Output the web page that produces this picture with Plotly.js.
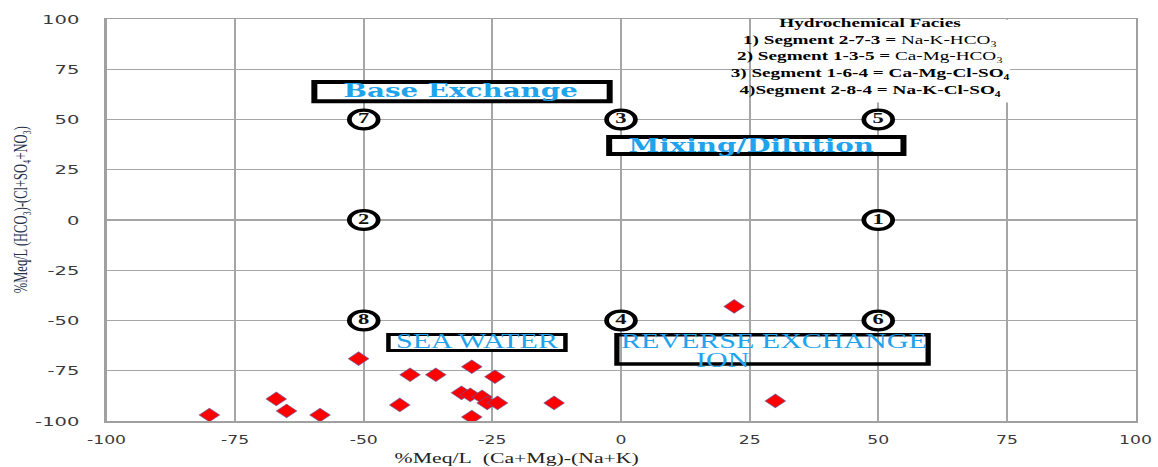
<!DOCTYPE html>
<html>
<head>
<meta charset="utf-8">
<script src="https://cdn.plot.ly/plotly-3.0.1.min.js"></script>
<style>
html,body{margin:0;padding:0;background:#fff;overflow:hidden;}
#chart{width:772px;height:467px;transform:scaleX(1.5);transform-origin:0 0;}
</style>
</head>
<body>
<div id="chart"></div>
<script>
// Sample points (Chadha diagram)
const sampleX = [-80, -67, -65, -58.5, -51, -43, -41, -36, -29, -24.5, -31, -29.3, -27, -26, -24, -29, -13, 22, 30];
const sampleY = [-97, -89, -95, -97, -69, -92, -77, -77, -73, -78, -86, -87, -88, -91, -91, -98, -91, -43, -90];

// Numbered field points
const fieldLabels = ['7', '3', '5', '2', '1', '8', '4', '6'];
const fieldX = [-50, 0, 50, -50, 50, -50, 0, 50];
const fieldY = [50, 50, 50, 0, 0, -50, -50, -50];

// Axis ticks
const tickVals = [-100, -75, -50, -25, 0, 25, 50, 75, 100];
const tickText = ['-100', '-75', '-50', '-25', '0', '25', '50', '75', '100'];

// Texts
const legendLines = [
  '<b>Hydrochemical Facies</b>',
  '<b>1) Segment 2-7-3 = </b>Na-K-HCO\u2083',
  '<b>2) Segment 1-3-5 = </b>Ca-Mg-HCO\u2083',
  '<b>3) Segment 1-6-4 = Ca-Mg-Cl-SO\u2084</b>',
  '<b>4)Segment 2-8-4 = Na-K-Cl-SO\u2084</b>'
];
const xTitle = '%Meq/L&nbsp;&nbsp;(Ca+Mg)-(Na+K)';
const yTitle = '%Meq/L (HCO\u2083)-(Cl+SO\u2084+NO\u2083)';

const blue = '#1ea3ec';

const traces = [
  {
    x: sampleX, y: sampleY, type: 'scatter', mode: 'markers',
    marker: {symbol: 'diamond', size: 10.5, color: '#ff0000', line: {color: 'rgba(90,90,160,0.7)', width: 0.7}},
    hoverinfo: 'x+y'
  },
  {
    x: fieldX, y: fieldY, type: 'scatter', mode: 'text', text: fieldLabels,
    textposition: 'middle center',
    textfont: {family: 'Liberation Serif', size: 15, color: '#111', weight: 'bold'},
    hoverinfo: 'skip'
  }
];

const shapes = [];
// legend white background
shapes.push({type: 'rect', xref: 'x', yref: 'y', x0: 25.6, x1: 75.6, y0: 58.5, y1: 99.6,
  fillcolor: '#fff', line: {width: 0}, layer: 'between'});
// ellipses around numbered points
fieldX.forEach((fx, i) => {
  shapes.push({type: 'circle', xref: 'x', yref: 'y', xsizemode: 'pixel', ysizemode: 'pixel',
    xanchor: fx, yanchor: fieldY[i], x0: -9.6, x1: 9.6, y0: -9.3, y1: 9.3,
    fillcolor: '#fff', line: {color: '#000', width: 3.2}, layer: 'between'});
});
// text boxes
shapes.push({type: 'rect', xref: 'x', yref: 'y', x0: -59.6, x1: -2.2, y0: 59.1, y1: 68.7,
  fillcolor: '#fff', line: {color: '#000', width: 4}, layer: 'between'});
shapes.push({type: 'rect', xref: 'x', yref: 'y', x0: -2.3, x1: 54.9, y0: 32.8, y1: 41.3,
  fillcolor: '#fff', line: {color: '#000', width: 4}, layer: 'between'});
shapes.push({type: 'rect', xref: 'x', yref: 'y', x0: -45.2, x1: -10.8, y0: -64.9, y1: -57.0,
  fillcolor: '#fff', line: {color: '#000', width: 3}, layer: 'between'});
shapes.push({type: 'rect', xref: 'x', yref: 'y', x0: -0.8, x1: 59.7, y0: -71.6, y1: -57.1,
  fillcolor: 'rgba(0,0,0,0)', line: {color: '#000', width: 3.5}, layer: 'between'});

const annotations = [
  {text: 'Base Exchange', xref: 'x', yref: 'y', x: -31.2, y: 64.2, showarrow: false,
    font: {family: 'DejaVu Serif', size: 18.5, color: blue, weight: 'bold'}},
  {text: 'Mixing/Dilution', xref: 'x', yref: 'y', x: 25.3, y: 37.2, showarrow: false,
    font: {family: 'DejaVu Serif', size: 18.5, color: blue, weight: 'bold'}},
  {text: 'SEA WATER', xref: 'x', yref: 'y', x: -27.8, y: -60.3, showarrow: false,
    font: {family: 'Liberation Serif', size: 20, color: blue}},
  {text: 'REVERSE EXCHANGE', xref: 'x', yref: 'y', x: 29.6, y: -60.3, showarrow: false,
    font: {family: 'Liberation Serif', size: 20, color: blue}},
  {text: 'ION', xref: 'x', yref: 'y', x: 19.9, y: -69.6, showarrow: false,
    font: {family: 'Liberation Serif', size: 20, color: blue}},
  {text: legendLines.join('<br>'), xref: 'x', yref: 'paper', x: 48.3, y: 1.012,
    xanchor: 'center', yanchor: 'top', align: 'center', showarrow: false,
    font: {family: 'Liberation Serif', size: 12.8, color: '#000'}},
  {text: xTitle, xref: 'paper', yref: 'paper', x: 0.399, y: -0.0945, xanchor: 'center', yanchor: 'middle',
    showarrow: false, font: {family: 'Liberation Serif', size: 14.5, color: '#222'}},
  {text: yTitle, xref: 'paper', yref: 'paper', x: -0.0827, y: 0.525, xanchor: 'center', yanchor: 'middle',
    textangle: -90, showarrow: false, font: {family: 'Liberation Serif', size: 12.5, color: '#25304a'}}
];

const layout = {
  width: 772, height: 467,
  margin: {l: 71.33, r: 15.33, t: 18.5, b: 46},
  paper_bgcolor: '#fff', plot_bgcolor: '#fff',
  showlegend: false,
  xaxis: {range: [-100, 100], tickvals: tickVals, ticktext: tickText, showgrid: true,
    gridcolor: '#a6a6a6', gridwidth: 1.3, zeroline: false, showline: true, mirror: true,
    linecolor: '#a0a0a0', linewidth: 1.5, ticks: '', ticklabelstandoff: 8,
    tickfont: {family: 'DejaVu Sans', size: 11.5, color: '#3a3a3a'}, fixedrange: true},
  yaxis: {range: [-100, 100], tickvals: tickVals, ticktext: tickText, showgrid: true,
    gridcolor: '#a6a6a6', gridwidth: 1.3, zeroline: false, showline: true, mirror: true,
    linecolor: '#a0a0a0', linewidth: 1.5, ticks: '', ticklabelstandoff: 14,
    tickfont: {family: 'DejaVu Sans', size: 13, color: '#3a3a3a'}, fixedrange: true},
  shapes: shapes,
  annotations: annotations
};

Plotly.newPlot('chart', traces, layout, {displayModeBar: false, staticPlot: true});
</script>
</body>
</html>
